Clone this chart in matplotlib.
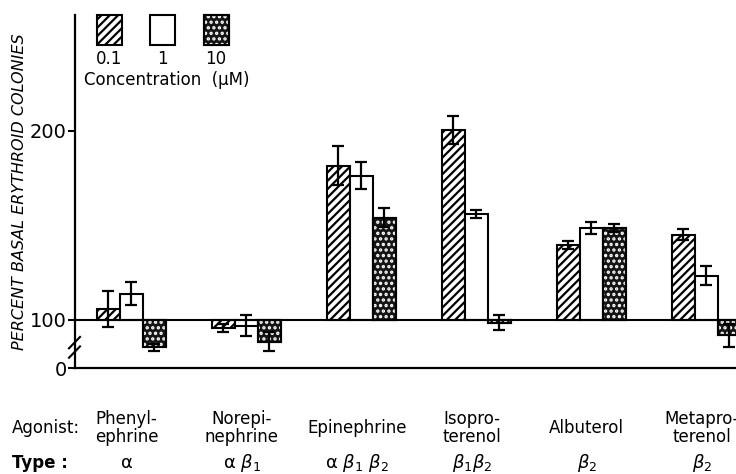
# -*- coding: utf-8 -*-
"""
Percent basal erythroid colonies for adrenergic agonists at three concentrations
"""
import numpy as np
import matplotlib
matplotlib.use("Agg")
import matplotlib.pyplot as plt
from matplotlib.patches import Rectangle
from matplotlib.transforms import blended_transform_factory

plt.rcParams['font.family'] = ['DejaVu Sans']
plt.rcParams['mathtext.fontset'] = 'dejavusans'
plt.rcParams['hatch.linewidth'] = 1.6

# data
agonists = ['Phenyl-\nephrine', 'Norepi-\nnephrine', 'Epinephrine',
            'Isopro-\nterenol', 'Albuterol', 'Metapro-\nterenol']
types = [r'$\mathrm{\alpha}$', r'$\mathrm{\alpha}\ \beta_1$', r'$\mathrm{\alpha}\ \beta_1\ \beta_2$',
         r'$\beta_1\beta_2$', r'$\beta_2$', r'$\beta_2$']
conc_labels = ['0.1', '1', '10']
val_01 = [105.5, 95.6, 181.5, 200.2, 139.5, 145.0]
err_01 = [9.5, 2.0, 10.5, 7.5, 2.0, 3.0]
val_1 = [113.8, 97.0, 176.2, 156.0, 148.5, 123.3]
err_1 = [6.0, 5.5, 7.0, 2.0, 3.0, 5.0]
val_10 = [85.5, 88.5, 154.0, 98.6, 148.5, 91.8]
err_10 = [2.0, 5.0, 5.0, 4.0, 2.0, 6.0]

baseline = 100
zero_pos = 74.6  # where the broken axis puts "0"
dot_face = '#151515'

fig = plt.figure(figsize=(7.36, 4.74), dpi=100)
ax = fig.add_axes([75/736, 1-368/474, 661/736, 353/474])

x = np.arange(len(agonists))
w = 0.2

def dotted_bars(xs, vals):
    h = np.array(vals) - baseline
    ax.bar(xs, h, w, bottom=baseline, color=dot_face, edgecolor='black', linewidth=1.5, zorder=2)
    ax.bar(xs, h, w, bottom=baseline, fill=False, edgecolor='white', hatch='...',
           linewidth=0, zorder=3)
    ax.bar(xs, h, w, bottom=baseline, fill=False, edgecolor='black', linewidth=1.5, zorder=4)

ax.bar(x - w, np.array(val_01) - baseline, w, bottom=baseline, color='white',
       edgecolor='black', hatch='////', linewidth=1.5, zorder=2)
ax.bar(x, np.array(val_1) - baseline, w, bottom=baseline, color='white',
       edgecolor='black', linewidth=1.5, zorder=2)
dotted_bars(x + w, val_10)

for xs, v, e in [(x - w, val_01, err_01), (x, val_1, err_1), (x + w, val_10, err_10)]:
    ax.errorbar(xs, v, yerr=e, fmt='none', ecolor='black', elinewidth=1.6,
                capsize=4, capthick=1.6, zorder=5)

ax.axhline(baseline, color='black', linewidth=1.5, zorder=6)

ax.set_xlim((75 - 131.3)/115, (736 - 131.3)/115)
ax.set_ylim(zero_pos, 261)
ax.spines['top'].set_visible(False)
ax.spines['right'].set_visible(False)
ax.spines['left'].set_linewidth(1.6)
ax.spines['bottom'].set_linewidth(1.6)
ax.set_xticks([])
ax.set_yticks([zero_pos, 100, 200])
ax.set_yticklabels(['0', '100', '200'], fontsize=14)
ax.tick_params(axis='y', length=5, width=1.5, pad=1)

# axis break
for dy in (0, 5):
    ax.plot([(69 - 131.3)/115, (80 - 131.3)/115], [85 - dy, 91 - dy], color='black',
            linewidth=1.5, clip_on=False, zorder=7)

ax.set_ylabel('PERCENT BASAL ERYTHROID COLONIES', fontsize=11.5, style='italic')
ax.yaxis.set_label_coords(-0.072, 0.5)

# concentration key
key_x = [97, 150, 204]
for kx, lab in zip(key_x, conc_labels):
    box = ((kx/736, 1-45/474), 25/736, 30/474)
    if lab == '0.1':
        fig.add_artist(Rectangle(*box, transform=fig.transFigure, facecolor='white',
                                 edgecolor='black', hatch='////', linewidth=1.5))
    elif lab == '1':
        fig.add_artist(Rectangle(*box, transform=fig.transFigure, facecolor='white',
                                 edgecolor='black', linewidth=1.5))
    else:
        fig.add_artist(Rectangle(*box, transform=fig.transFigure, facecolor=dot_face,
                                 edgecolor='black', linewidth=1.5))
        fig.add_artist(Rectangle(*box, transform=fig.transFigure, fill=False,
                                 edgecolor='white', hatch='...', linewidth=0))
        fig.add_artist(Rectangle(*box, transform=fig.transFigure, fill=False,
                                 edgecolor='black', linewidth=1.5))
    fig.text((kx + 12)/736, 1-59/474, lab, ha='center', va='center', fontsize=12)
fig.text(167/736, 1-80/474, 'Concentration  (µM)', ha='center', va='center', fontsize=12)

# row labels under the axis
tr = blended_transform_factory(ax.transData, fig.transFigure)
fig.text(12/736, 1-428/474, 'Agonist:', ha='left', va='center', fontsize=12)
fig.text(12/736, 1-463/474, 'Type :', ha='left', va='center', fontsize=12, weight='bold')
for xi, name, t in zip(x, agonists, types):
    ax.text(xi - 0.04, 1-428/474, name, transform=tr, ha='center', va='center',
            fontsize=12, linespacing=1.05)
    ax.text(xi - 0.04, 1-463/474, t, transform=tr, ha='center', va='center', fontsize=13)

fig.savefig("out.png", dpi=100)
